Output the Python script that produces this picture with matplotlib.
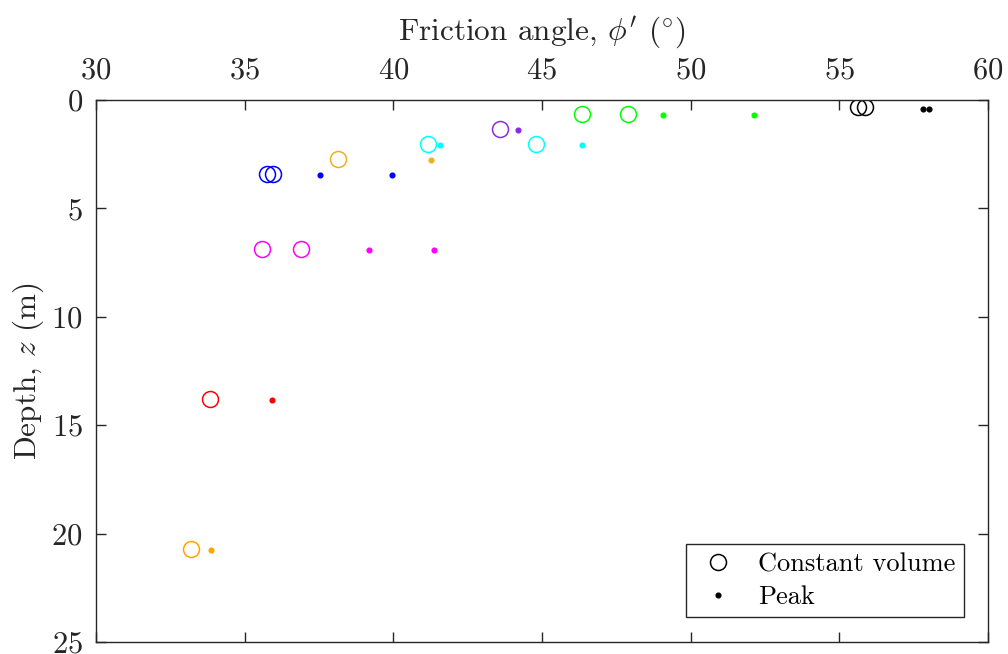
import matplotlib
matplotlib.use("Agg")
import matplotlib.pyplot as plt
from matplotlib.lines import Line2D

plt.rcParams["font.family"] = "serif"
plt.rcParams["font.serif"] = ["cmr10"]
plt.rcParams["mathtext.fontset"] = "cm"
plt.rcParams["axes.formatter.use_mathtext"] = True

# Test groups: colour, constant-volume angles, peak angles, depths
colors = ["black", "#00FF00", "#8A2BE2", "#00FFFF", "#EDB120",
          "#0000FF", "#FF00FF", "#FF0000", "#FFA500"]

cv_phi = [[55.63, 55.86], [46.33, 47.89], [43.60], [41.18, 44.80], [38.13],
          [35.75, 35.95], [35.60, 36.90], [33.85], [33.21]]
cv_z = [[0.34, 0.34], [0.65, 0.65], [1.34], [2.03, 2.03], [2.74],
        [3.41, 3.41], [6.89, 6.89], [13.81], [20.72]]

peak_phi = [[57.80, 58.01], [49.07, 52.14], [44.20], [41.56, 46.35], [41.27],
            [37.52, 39.94], [39.19, 41.38], [35.93], [33.88]]
peak_z = [[0.41, 0.41], [0.69, 0.69], [1.38], [2.08, 2.08], [2.77],
          [3.45, 3.45], [6.92, 6.92], [13.85], [20.77]]

x_ticks = [30, 35, 40, 45, 50, 55, 60]
y_ticks = [0, 5, 10, 15, 20, 25]

fig = plt.figure(figsize=(10.08, 6.54), dpi=100)
ax = fig.add_axes([0.0952, 0.0184, 0.8850, 0.8287])

for c, xs, zs, xp, zp in zip(colors, cv_phi, cv_z, peak_phi, peak_z):
    ax.plot(xs, zs, linestyle="none", marker="o", markersize=11.5,
            markerfacecolor="none", markeredgecolor=c, markeredgewidth=1.1)
    ax.plot(xp, zp, linestyle="none", marker="o", markersize=3.4,
            markerfacecolor=c, markeredgecolor=c)

ax.set_xlim(30, 60)
ax.set_ylim(25, 0)
ax.set_xticks(x_ticks)
ax.set_yticks(y_ticks)

spine_col = "#262626"
for s in ax.spines.values():
    s.set_color(spine_col)
    s.set_linewidth(1.0)

ax.tick_params(axis="both", which="both", direction="in", length=7, width=1.0,
               color=spine_col, labelsize=22, top=True, bottom=True,
               left=True, right=True, labeltop=True, labelbottom=False,
               labelcolor="#262626")
ax.tick_params(axis="x", pad=11)
ax.tick_params(axis="y", pad=9.5)
ax.xaxis.set_label_position("top")

ax.set_xlabel(r"Friction angle, $\phi^{\prime}$ ($^{\circ}$)", fontsize=22.5,
              color="#262626", labelpad=12)
ax.set_ylabel(r"Depth, $z$ (m)", fontsize=22.5, color="#262626", labelpad=4)

handles = [
    Line2D([], [], linestyle="none", marker="o", markersize=11.5,
           markerfacecolor="none", markeredgecolor="black", markeredgewidth=1.1),
    Line2D([], [], linestyle="none", marker="o", markersize=3.4,
           markerfacecolor="black", markeredgecolor="black"),
]
leg = ax.legend(handles, ["Constant volume", "Peak"], loc="lower right",
                bbox_to_anchor=(0.9725, 0.046), borderaxespad=0,
                fontsize=19, frameon=True,
                fancybox=False, edgecolor=spine_col, framealpha=1,
                handletextpad=0.6, borderpad=0.3, labelspacing=0.35,
                handlelength=1.85)
leg.get_frame().set_linewidth(1.0)

fig.savefig("out.png", dpi=100)
